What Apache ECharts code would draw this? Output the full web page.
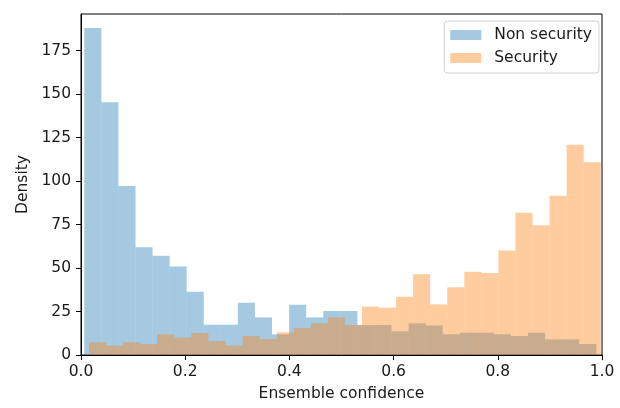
<!DOCTYPE html>
<html>
<head>
<meta charset="utf-8">
<script src="https://cdn.jsdelivr.net/npm/echarts@6/dist/echarts.min.js"></script>
<style>
  html, body { margin: 0; padding: 0; background: #fff; }
  #chart { width: 620px; height: 408px; }
</style>
</head>
<body>
<div id="chart"></div>
<script>
    "use strict";

    // ---- data ----
    const seriesNames = ["Non security", "Security"];

    // 30 equal-width bins per series
    const nonSecStart = 0.0063;
    const nonSecWidth = 0.03276;
    const nonSecHeights = [
        188, 145.3, 97.2, 61.9, 57.1, 50.8, 36.4, 17.4, 17.4, 30.1,
        21.6, 11.9, 28.9, 21.6, 25.3, 25.3, 17.2, 17.2, 13.6, 18.2,
        17.0, 11.9, 12.8, 12.8, 11.9, 10.9, 12.8, 9.0, 9.0, 6.3
    ];

    const secStart = 0.0154;
    const secWidth = 0.03274;
    const secHeights = [
        7.3, 5.4, 7.3, 6.3, 11.9, 10.0, 12.6, 8.0, 5.4, 10.9,
        9.2, 13.0, 15.5, 18.2, 21.6, 17.2, 27.8, 27.2, 33.5, 46.4,
        29.1, 38.9, 47.9, 47.1, 60.0, 81.8, 74.6, 91.6, 120.8, 110.8
    ];

    const xTicks = [0, 0.2, 0.4, 0.6, 0.8, 1.0];
    const yTicks = [0, 25, 50, 75, 100, 125, 150, 175];

    const TEXT = "#1a1a1a";
    const FONT = "DejaVu Sans";
    const FS = 15.5;

    function toBins(start, width, heights) {
        return heights.map((h, i) => [start + i * width, start + (i + 1) * width, h]);
    }

    function renderBin(params, api) {
        const p0 = api.coord([api.value(0), api.value(2)]);
        const p1 = api.coord([api.value(1), 0]);
        return {
            type: "rect",
            shape: { x: p0[0], y: p0[1], width: p1[0] - p0[0], height: p1[1] - p0[1] },
            style: api.style()
        };
    }

    const chart = echarts.init(document.getElementById("chart"), null, { renderer: "canvas" });
    chart.setOption({
        animation: false,
        backgroundColor: "#fff",
        textStyle: { fontFamily: FONT },
        grid: {
            left: 81, right: 18, top: 14, bottom: 53,
            show: true, borderColor: "#000", borderWidth: 1, backgroundColor: "transparent"
        },
        legend: {
            orient: "vertical",
            right: 21, top: 21,
            padding: [6, 7, 7, 6],
            itemWidth: 31, itemHeight: 10, itemGap: 7,
            borderColor: "#d0d0d0", borderWidth: 1, borderRadius: 3,
            backgroundColor: "rgba(255,255,255,0.8)",
            textStyle: { fontFamily: FONT, fontSize: FS, color: TEXT, padding: [0, 0, 0, 8] },
            data: [
                { name: seriesNames[0], icon: "rect", itemStyle: { color: "rgb(165,201,225)", opacity: 1 } },
                { name: seriesNames[1], icon: "rect", itemStyle: { color: "rgb(255,204,159)", opacity: 1 } }
            ]
        },
        xAxis: {
            type: "value",
            min: 0, max: 1, interval: 0.2,
            name: "Ensemble confidence",
            nameLocation: "middle",
            nameGap: 31,
            nameTextStyle: { fontFamily: FONT, fontSize: FS, color: TEXT },
            axisLine: { show: true, lineStyle: { color: "#000", width: 1 } },
            axisTick: { show: true, inside: false, length: 5, lineStyle: { color: "#000" }, customValues: xTicks },
            axisLabel: {
                fontFamily: FONT, fontSize: FS, color: TEXT, margin: 9,
                customValues: xTicks,
                formatter: v => v.toFixed(1)
            },
            splitLine: { show: false }
        },
        yAxis: {
            type: "value",
            min: 0, max: 196,
            name: "Density",
            nameLocation: "middle",
            nameGap: 50,
            nameTextStyle: { fontFamily: FONT, fontSize: FS, color: TEXT },
            axisLine: { show: true, lineStyle: { color: "#000", width: 1 } },
            axisTick: { show: true, inside: false, length: 5, lineStyle: { color: "#000" }, customValues: yTicks },
            axisLabel: {
                fontFamily: FONT, fontSize: FS, color: TEXT, margin: 10,
                customValues: yTicks
            },
            splitLine: { show: false }
        },
        series: [
            {
                name: seriesNames[0],
                type: "custom",
                renderItem: renderBin,
                encode: { x: [0, 1], y: 2 },
                itemStyle: { color: "#1f77b4", opacity: 0.4 },
                data: toBins(nonSecStart, nonSecWidth, nonSecHeights),
                clip: true,
                z: 2
            },
            {
                name: seriesNames[1],
                type: "custom",
                renderItem: renderBin,
                encode: { x: [0, 1], y: 2 },
                itemStyle: { color: "#ff7f0e", opacity: 0.4 },
                data: toBins(secStart, secWidth, secHeights),
                clip: true,
                z: 3
            }
        ]
    });
</script>
</body>
</html>
